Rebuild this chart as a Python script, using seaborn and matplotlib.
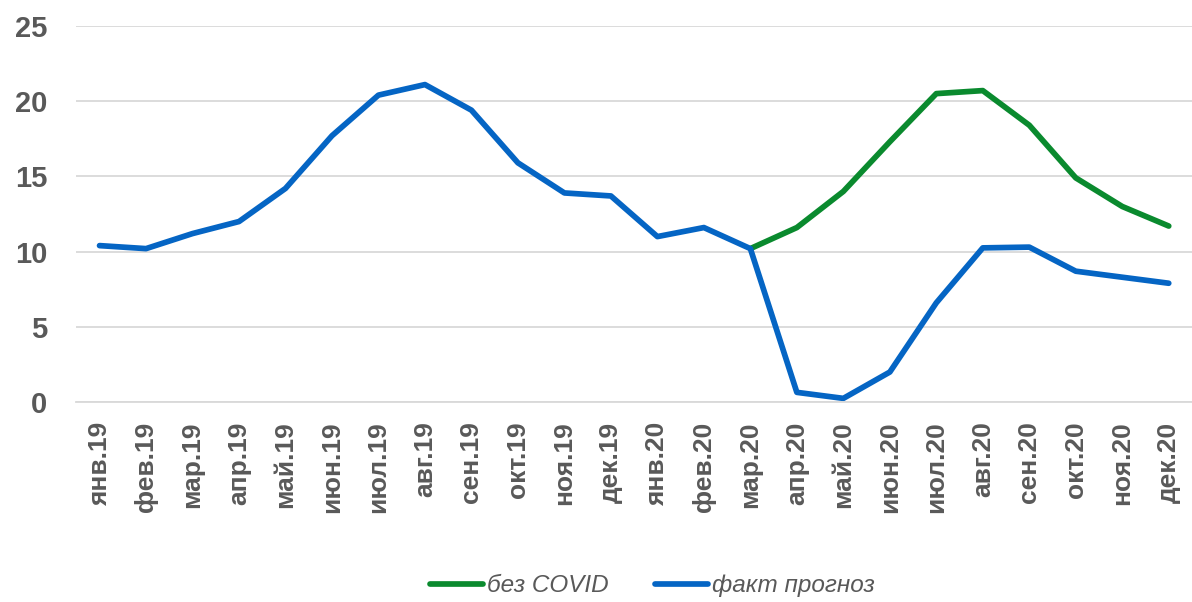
import matplotlib
matplotlib.use("Agg")
import matplotlib.pyplot as plt
import numpy as np
import pandas as pd
import seaborn as sns

months = ['янв.19', 'фев.19', 'мар.19', 'апр.19', 'май.19', 'июн.19', 'июл.19', 'авг.19',
          'сен.19', 'окт.19', 'ноя.19', 'дек.19', 'янв.20', 'фев.20', 'мар.20', 'апр.20',
          'май.20', 'июн.20', 'июл.20', 'авг.20', 'сен.20', 'окт.20', 'ноя.20', 'дек.20']

fact_forecast = [10.4, 10.2, 11.2, 12.0, 14.2, 17.7, 20.4, 21.1, 19.4, 15.9, 13.9, 13.7,
                 11.0, 11.6, 10.2, 0.65, 0.25, 2.0, 6.6, 10.25, 10.3, 8.7, 8.3, 7.9]
no_covid = [np.nan] * 14 + [10.2, 11.6, 14.0, 17.3, 20.5, 20.7, 18.4, 14.9, 13.0, 11.7]

series_names = ['без COVID', 'факт прогноз']
colors = ['#0A8A2E', '#0565C4']
y_ticks = [0, 5, 10, 15, 20, 25]

df = pd.concat([
    pd.DataFrame({'x': np.arange(len(months)), 'value': no_covid, 'series': series_names[0]}),
    pd.DataFrame({'x': np.arange(len(months)), 'value': fact_forecast, 'series': series_names[1]}),
]).dropna()

sns.set_style('white')
plt.rcParams['font.family'] = ['Liberation Sans Narrow', 'Liberation Sans', 'DejaVu Sans']

grey = '#595959'
fig = plt.figure(figsize=(11.92, 6.02), dpi=100)
ax = fig.add_axes([0.064, 0.332, 0.936, 0.625])

sns.lineplot(data=df, x='x', y='value', hue='series', hue_order=series_names,
             palette=colors, linewidth=4.1, ax=ax, legend=False, sort=False,
             solid_capstyle='round', solid_joinstyle='round')

ax.set_xlim(-0.5, len(months) - 0.5)
ax.set_ylim(0, 25)
ax.set_yticks(y_ticks)
ax.set_yticklabels([str(t) for t in y_ticks], fontsize=21, fontweight='bold', color=grey)
ax.tick_params(axis='y', length=0, pad=21)

ax.set_xticks(np.arange(len(months)))
ax.set_xticklabels(months, rotation=90, fontsize=19, fontweight='bold', color=grey)
ax.set_xticks(np.arange(-0.5, len(months)), minor=True)
ax.tick_params(axis='x', which='major', length=0, pad=14)
ax.tick_params(axis='x', which='minor', length=9, width=1.2, color='#D9D9D9')

ax.grid(True, axis='y', color='#D9D9D9', linewidth=1.3)
ax.set_axisbelow(True)
for side in ['left', 'right', 'top']:
    ax.spines[side].set_visible(False)
ax.spines['bottom'].set_color('#D9D9D9')
ax.spines['bottom'].set_linewidth(1.3)
ax.set_xlabel('')
ax.set_ylabel('')

handles = [plt.Line2D([0], [0], color=c, linewidth=4.1, solid_capstyle='round') for c in colors]
leg = fig.legend(handles, series_names, loc='center', bbox_to_anchor=(0.547, 0.027), ncol=2,
                 frameon=False, handlelength=2.2, handletextpad=0.15, columnspacing=1.9,
                 prop={'size': 17.5, 'style': 'italic'})
for t in leg.get_texts():
    t.set_color(grey)

fig.savefig('out.png', dpi=100)
